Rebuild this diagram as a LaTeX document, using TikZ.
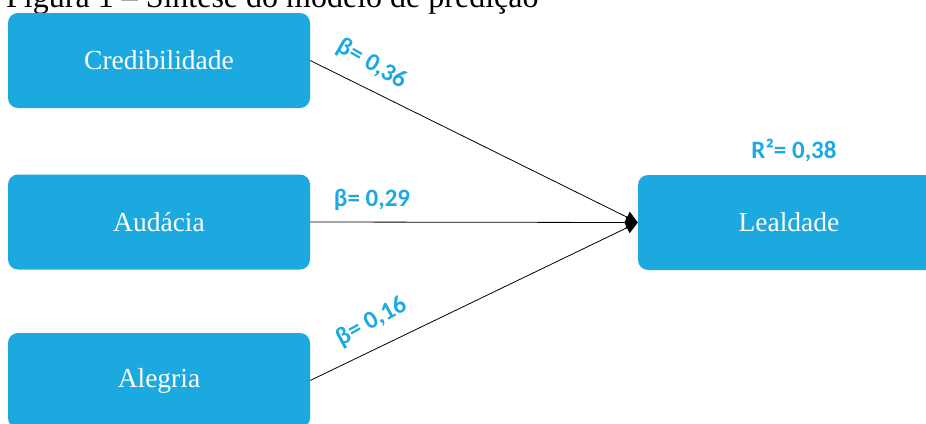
\documentclass[tikz,border=0pt]{standalone}
\usepackage{fontspec}
\setmainfont{Liberation Serif}
\newfontfamily\labfont{Carlito}
\usetikzlibrary{arrows.meta}
\definecolor{boxblue}{HTML}{1BA9E0}
\tikzset{
  varbox/.style={fill=boxblue, rounded corners=10pt, minimum width=302pt, minimum height=95pt, inner sep=0pt, text=white, font=\fontsize{27.5}{32}\selectfont},
  coef/.style={text=boxblue, font=\labfont\bfseries\fontsize{25}{30}\selectfont, inner sep=0pt},
  path/.style={draw=black, line width=0.8pt, -{Triangle[length=12pt,width=12pt]}}
}
\begin{document}
\begin{tikzpicture}[x=1pt,y=-1pt]
\useasboundingbox (0,0) rectangle (926,423);
\clip (0,0) rectangle (926,423);
\node[anchor=base west, inner sep=0pt, font=\fontsize{32}{38}\selectfont] (title) at (6,7) {Figura 1 – Síntese do modelo de predição};
\node[varbox] (cred) at (159,60.5) {Credibilidade};
\node[varbox] (auda) at (159,222) {Audácia};
\node[varbox] (aleg) at (159,380.5) {Alegria};
\node[varbox] (leal) at (789,222.5) {Lealdade};
\draw[path] (cred.east) -- (leal.west);
\draw[path] (auda.east) -- (leal.west);
\draw[path] (aleg.east) -- (leal.west);
\node[coef, rotate=-30] (b1) at (372,64) {β= 0,36};
\node[coef] (b2) at (372,200) {β= 0,29};
\node[coef, rotate=29] (b3) at (372,322) {β= 0,16};
\node[coef] (r2) at (794,150) {R²= 0,38};
\end{tikzpicture}
\end{document}
